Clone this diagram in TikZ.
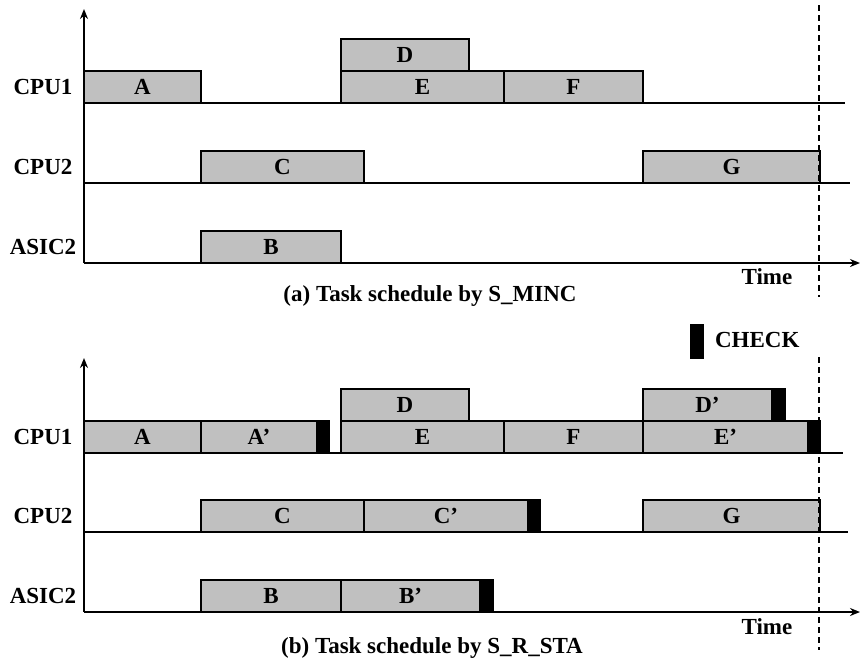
\documentclass[tikz,border=0pt]{standalone}
\usepackage{fontspec}
\setmainfont{Liberation Serif}
\usepackage{xcolor}
\usetikzlibrary{arrows.meta}
\definecolor{task-gray}{RGB}{192,192,192}

% task bar: style, name, left x, baseline y, width (px), label
\newcommand{\taskbox}[6]{\node[#1, minimum width=#5*0.5pt] (#2) at (#3,#4) {#6};}

\begin{document}
\begin{tikzpicture}[
  x=0.5pt, y=-0.5pt,
  every node/.style={font=\fontsize{11.5pt}{13pt}\selectfont\bfseries},
  task/.style={draw, fill=task-gray, line width=0.7pt, anchor=south west, inner sep=0pt, outer sep=0pt, minimum height=16pt},
  chk/.style={task, fill=black},
  axis/.style={-{Stealth[length=5pt, width=4pt]}, line width=0.8pt},
  base/.style={line width=0.8pt},
  deadline/.style={dashed, dash pattern=on 3pt off 2pt, line width=0.6pt},
]
  \useasboundingbox (0,0) rectangle (860,664);

  % (a) schedule by S_MINC
  \coordinate (oa) at (84,263);
  \coordinate (ya) at (84,9);
  \coordinate (xa) at (860,263);
  \coordinate (ca1) at (845,103);
  \coordinate (ca2) at (850,183);
  \draw[axis] (oa) -- (ya);
  \draw[axis] (oa) -- (xa);
  \draw[base] (oa |- ca1) -- (ca1);
  \draw[base] (oa |- ca2) -- (ca2);

  \node (cpu1a) at (43,87) {CPU1};
  \node (cpu2a) at (43,167) {CPU2};
  \node (asica) at (43,247) {ASIC2};

  \taskbox{task}{Aa}{84}{103}{117}{A}
  \taskbox{task}{Da}{341}{71}{128}{D}
  \taskbox{task}{Ea}{341}{103}{163}{E}
  \taskbox{task}{Fa}{504}{103}{139}{F}
  \taskbox{task}{Ca}{201}{183}{163}{C}
  \taskbox{task}{Ga}{643}{183}{177}{G}
  \taskbox{task}{Ba}{201}{263}{140}{B}

  \node (timea) at (767,277) {Time};
  \node (capa) at (430,296) {(a) Task schedule by S\_MINC};
  \coordinate (dla) at (819,5);
  \coordinate (dlb) at (819,297);
  \draw[deadline] (dla) -- (dlb);

  % legend
  \node[chk, minimum width=12*0.5pt, minimum height=16.5pt] (chkkey) at (691,358) {};
  \node[anchor=west] (chktext) at (708,340) {CHECK};

  % (b) schedule by S_R_STA
  \coordinate (ob) at (84,612);
  \coordinate (yb) at (84,358);
  \coordinate (xb) at (860,612);
  \coordinate (cb1) at (843,453);
  \coordinate (cb2) at (848,532);
  \draw[axis] (ob) -- (yb);
  \draw[axis] (ob) -- (xb);
  \draw[base] (ob |- cb1) -- (cb1);
  \draw[base] (ob |- cb2) -- (cb2);

  \node (cpu1b) at (43,437) {CPU1};
  \node (cpu2b) at (43,516) {CPU2};
  \node (asicb) at (43,596) {ASIC2};

  \taskbox{task}{Ab}{84}{453}{117}{A}
  \taskbox{task}{A2b}{201}{453}{116}{A'}
  \taskbox{chk}{kAb}{317}{453}{12}{}
  \taskbox{task}{Db}{341}{421}{128}{D}
  \taskbox{task}{Eb}{341}{453}{163}{E}
  \taskbox{task}{Fb}{504}{453}{139}{F}
  \taskbox{task}{E2b}{643}{453}{165}{E'}
  \taskbox{chk}{kEb}{808}{453}{12}{}
  \taskbox{task}{D2b}{643}{421}{129}{D'}
  \taskbox{chk}{kDb}{772}{421}{13}{}
  \taskbox{task}{Cb}{201}{532}{163}{C}
  \taskbox{task}{C2b}{364}{532}{164}{C'}
  \taskbox{chk}{kCb}{528}{532}{12}{}
  \taskbox{task}{Gb}{643}{532}{177}{G}
  \taskbox{task}{Bb}{201}{612}{140}{B}
  \taskbox{task}{B2b}{341}{612}{139}{B'}
  \taskbox{chk}{kBb}{480}{612}{13}{}

  \node (timeb) at (767,627) {Time};
  \node (capb) at (432,648) {(b) Task schedule by S\_R\_STA};
  \coordinate (dlc) at (819,357);
  \coordinate (dld) at (819,650);
  \draw[deadline] (dlc) -- (dld);
\end{tikzpicture}
\end{document}
